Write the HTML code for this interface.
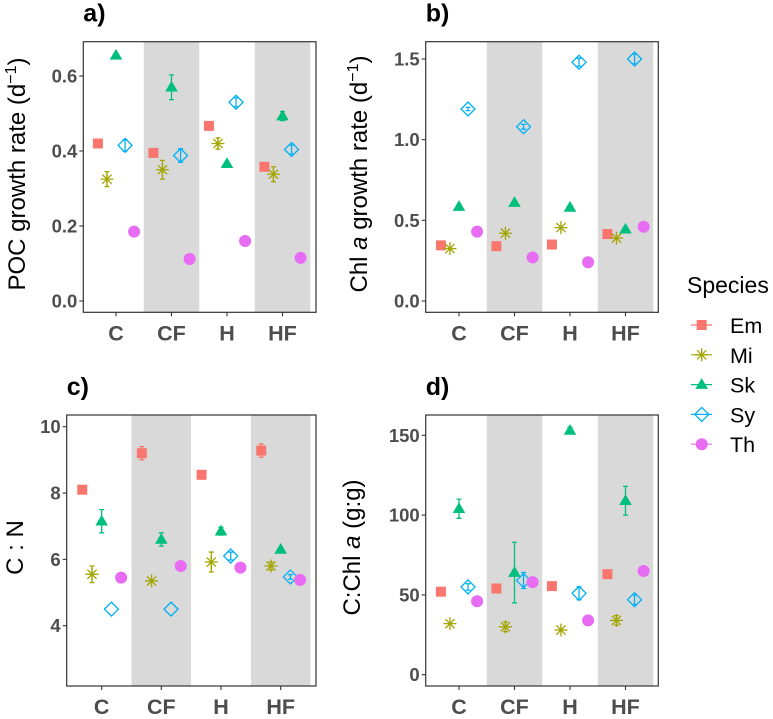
<!DOCTYPE html>
<html><head><meta charset="utf-8"><style>
body{margin:0;background:#fff;width:773px;height:719px;overflow:hidden}
svg{display:block;font-family:"Liberation Sans",sans-serif}
.tk{font-size:18.5px;font-weight:bold;fill:#4d4d4d}
.xt{font-size:21.5px;font-weight:bold;fill:#4d4d4d}
.pt{font-size:25px;font-weight:bold;fill:#000}
.at{font-size:24px;fill:#000}
</style></head><body>
<svg id="chart" width="773" height="719" viewBox="0 0 773 719"></svg>
<script>
const categories=["C","CF","H","HF"];
const species=["Em","Mi","Sk","Sy","Th"];
const colors=["#F8766D","#A3A500","#00BF7D","#00B0F6","#E76BF3"];
const pocVals=[[0.42,0.395,0.467,0.358],[0.325,0.35,0.42,0.338],[0.655,0.57,0.366,0.493],[0.415,0.388,0.53,0.404],[0.185,0.112,0.16,0.115]];
const pocErr=[[0,0,0.01,0.01],[0.02,0.025,0.015,0.02],[0,0.033,0,0.012],[0.015,0.018,0.012,0.012],[0,0,0,0]];
const pocTicks=[0,0.2,0.4,0.6];
const chlVals=[[0.345,0.34,0.35,0.415],[0.325,0.42,0.455,0.39],[0.585,0.61,0.58,0.445],[1.19,1.08,1.48,1.5],[0.43,0.27,0.24,0.46]];
const chlErr=[[0,0,0,0],[0,0,0,0],[0,0,0,0],[0.01,0.015,0.025,0.03],[0,0,0,0]];
const chlTicks=[0,0.5,1.0,1.5];
const cnVals=[[8.1,9.2,8.55,9.28],[5.55,5.35,5.92,5.8],[7.15,6.6,6.85,6.3],[4.5,4.5,6.1,5.47],[5.45,5.8,5.75,5.38]];
const cnErr=[[0,0.2,0.1,0.2],[0.25,0,0.3,0.12],[0.35,0.2,0.12,0],[0,0,0.12,0.07],[0,0,0,0]];
const cnTicks=[4,6,8,10];
const ccVals=[[52,54,55.5,63],[32,30,28,34],[104,64,153,109],[55,59,51,47],[46,58,34,65]];
const ccErr=[[0,0,0,0],[0,3,0,3],[6,19,2,9],[2,5,4,3],[0,0,0,0]];
const ccTicks=[0,50,100,150];

const NS="http://www.w3.org/2000/svg";
const svg=document.getElementById("chart");
function mk(tag,attrs,parent){const e=document.createElementNS(NS,tag);for(const k in attrs)e.setAttribute(k,attrs[k]);(parent||svg).appendChild(e);return e;}

function marker(g,s,x,y){
  const c=colors[s];let e;
  if(s===0){e=mk("rect",{x:x-5,y:y-5,width:10,height:10,fill:c},g);}
  else if(s===1){e=mk("path",{d:`M${x-6.5} ${y}H${x+6.5}M${x} ${y-6.5}V${y+6.5}M${x-4.6} ${y-4.6}L${x+4.6} ${y+4.6}M${x-4.6} ${y+4.6}L${x+4.6} ${y-4.6}`,stroke:c,"stroke-width":1.3,fill:"none"},g);}
  else if(s===2){e=mk("path",{d:`M${x} ${y-6.5}L${x+6.3} ${y+4.3}L${x-6.3} ${y+4.3}Z`,fill:c},g);}
  else if(s===3){e=mk("path",{d:`M${x} ${y-7}L${x+7} ${y}L${x} ${y+7}L${x-7} ${y}Z`,stroke:c,"stroke-width":1.3,fill:"none"},g);}
  else {e=mk("circle",{cx:x,cy:y,r:6,fill:c},g);}
  return e;
}

function panel(opt){
  const g=mk("g",{});
  
  
  const {x0,x1,y0,y1,cx,tv0,tp0,tv1,tp1}=opt;
  const sp=cx[1]-cx[0];
  const yS=v=>tp0+(v-tv0)*(tp1-tp0)/(tv1-tv0);
  const xS=(ci,si)=>cx[ci]+(si-2)*sp*0.163;
  [1,3].forEach(ci=>{const b=mk("rect",{x:cx[ci]-sp/2,y:y0,width:sp,height:y1-y0,fill:"#d9d9d9"},g);
    
    });
  for(let s=0;s<species.length;s++){
    for(let ci=0;ci<categories.length;ci++){
      const v=opt.vals[s][ci],er=opt.err[s][ci];
      const x=xS(ci,s),y=yS(v);
      if(er>0){const eb=mk("path",{d:`M${x-2.5} ${yS(v+er)}H${x+2.5}M${x} ${yS(v+er)}V${yS(v-er)}M${x-2.5} ${yS(v-er)}H${x+2.5}`,stroke:colors[s],"stroke-width":1.3,fill:"none"},g);
        
        }
      const m=marker(g,s,x,y);
      
      
    }
  }
  const fr=mk("rect",{x:x0,y:y0,width:x1-x0,height:y1-y0,fill:"none",stroke:"#333","stroke-width":1.2},g);
  
  
  opt.ticks.forEach((t,i)=>{const y=yS(t);
    mk("line",{x1:x0-4,x2:x0,y1:y,y2:y,stroke:"#333","stroke-width":1.1},g);
    const tx=mk("text",{x:x0-6,y:y+6.5,"text-anchor":"end",class:"tk"},g);tx.textContent=opt.tickLabels[i];
    
    });
  categories.forEach((c,ci)=>{
    mk("line",{x1:cx[ci],x2:cx[ci],y1:y1,y2:y1+4,stroke:"#333","stroke-width":1.1},g);
    const tx=mk("text",{x:cx[ci],y:y1+28,"text-anchor":"middle",class:"xt"},g);tx.textContent=c;
    
    });
  const pt=mk("text",{x:x0,y:y0-20,class:"pt"},g);pt.textContent=opt.title;
  
  
  const at=mk("text",{x:0,y:0,class:"at","text-anchor":"middle",transform:`translate(${opt.ax},${(y0+y1)/2-3}) rotate(-90)`},g);
  at.innerHTML=opt.atitle;
  
  
}
panel({name:"panel-a-poc",x0:83.3,x1:316,y0:41.7,y1:312.3,cx:[116,171.5,227,282.5],tv0:0,tp0:301,tv1:0.6,tp1:76,vals:pocVals,err:pocErr,ticks:pocTicks,tickLabels:["0.0","0.2","0.4","0.6"],title:"a)",ax:25,atitle:'POC growth rate  (d<tspan dy="-9" font-size="16">−1</tspan><tspan dy="9">)</tspan>'});
panel({name:"panel-b-chl",x0:425.7,x1:658.3,y0:41.7,y1:312.3,cx:[459,514.5,570,625.5],tv0:0,tp0:301,tv1:1.5,tp1:59,vals:chlVals,err:chlErr,ticks:chlTicks,tickLabels:["0.0","0.5","1.0","1.5"],title:"b)",ax:367,atitle:'Chl <tspan font-style="italic">a</tspan> growth rate (d<tspan dy="-9" font-size="16">−1</tspan><tspan dy="9">)</tspan>'});
panel({name:"panel-c-cn",x0:66.7,x1:316,y0:415,y1:686,cx:[101.7,161.3,221,280.7],tv0:4,tp0:625.7,tv1:10,tp1:426.7,vals:cnVals,err:cnErr,ticks:cnTicks,tickLabels:["4","6","8","10"],title:"c)",ax:23,atitle:'C : N'});
panel({name:"panel-d-cchl",x0:425.7,x1:658.3,y0:415,y1:686,cx:[459,514.5,570,625.5],tv0:0,tp0:674.7,tv1:150,tp1:435.3,vals:ccVals,err:ccErr,ticks:ccTicks,tickLabels:["0","50","100","150"],title:"d)",ax:360,atitle:'C:Chl <tspan font-style="italic">a</tspan> (g:g)'});

const lg=mk("g",{});


const lt=mk("text",{x:687,y:293,style:"font-size:23px"},lg);lt.textContent="Species";


species.forEach((s,i)=>{
  const y=325+i*29.8;
  const e=mk("g",{},lg);
  
  
  mk("line",{x1:691,x2:712,y1:y,y2:y,stroke:colors[i],"stroke-width":1.2},e);
  marker(e,i,701.7,y);
  const t=mk("text",{x:730,y:y+8,style:"font-size:21.5px"},e);t.textContent=s;
});
</script>
</body></html>
